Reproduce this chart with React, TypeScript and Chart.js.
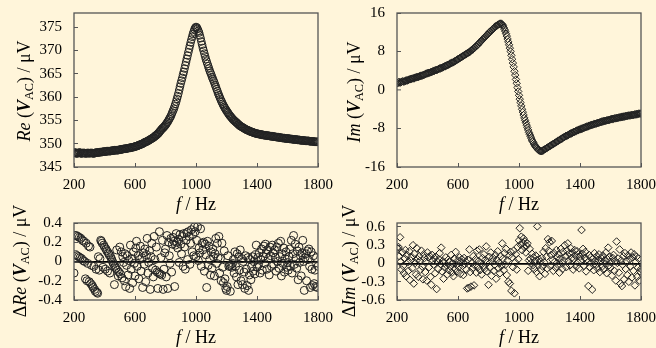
import React, { useEffect, useRef } from 'react';
import { Chart, registerables } from 'chart.js';

Chart.register(...registerables);

const W = 656;
const H = 348;
const BG = '#FFF5DA';
const INK = '#222222';
const FRAME = '#555555';
const FONT = '"Liberation Serif", "Times New Roman", serif';

// Frequencies (Hz), shared by all four panels
const FREQ = [
  200, 205, 210, 215, 220, 225, 230, 235, 240, 245,
  250, 255, 260, 265, 270, 275, 280, 285, 290, 295,
  300, 305, 310, 315, 320, 325, 330, 335, 340, 345,
  350, 355, 360, 365, 370, 375, 380, 385, 390, 395,
  400, 405, 410, 415, 420, 425, 430, 435, 440, 445,
  450, 455, 460, 465, 470, 475, 480, 485, 490, 495,
  500, 505, 510, 515, 520, 525, 530, 535, 540, 545,
  550, 555, 560, 565, 570, 575, 580, 585, 590, 595,
  600, 605, 610, 615, 620, 625, 630, 635, 640, 645,
  650, 655, 660, 665, 670, 675, 680, 685, 690, 695,
  700, 705, 710, 715, 720, 725, 730, 735, 740, 745,
  750, 755, 760, 765, 770, 775, 780, 785, 790, 795,
  800, 805, 810, 815, 820, 825, 830, 835, 840, 845,
  850, 855, 860, 865, 870, 875, 880, 885, 890, 895,
  900, 905, 910, 915, 920, 925, 930, 935, 940, 945,
  950, 955, 960, 965, 970, 975, 980, 985, 990, 995,
  1000, 1005, 1010, 1015, 1020, 1025, 1030, 1035, 1040, 1045,
  1050, 1055, 1060, 1065, 1070, 1075, 1080, 1085, 1090, 1095,
  1100, 1105, 1110, 1115, 1120, 1125, 1130, 1135, 1140, 1145,
  1150, 1155, 1160, 1165, 1170, 1175, 1180, 1185, 1190, 1195,
  1200, 1205, 1210, 1215, 1220, 1225, 1230, 1235, 1240, 1245,
  1250, 1255, 1260, 1265, 1270, 1275, 1280, 1285, 1290, 1295,
  1300, 1305, 1310, 1315, 1320, 1325, 1330, 1335, 1340, 1345,
  1350, 1355, 1360, 1365, 1370, 1375, 1380, 1385, 1390, 1395,
  1400, 1405, 1410, 1415, 1420, 1425, 1430, 1435, 1440, 1445,
  1450, 1455, 1460, 1465, 1470, 1475, 1480, 1485, 1490, 1495,
  1500, 1505, 1510, 1515, 1520, 1525, 1530, 1535, 1540, 1545,
  1550, 1555, 1560, 1565, 1570, 1575, 1580, 1585, 1590, 1595,
  1600, 1605, 1610, 1615, 1620, 1625, 1630, 1635, 1640, 1645,
  1650, 1655, 1660, 1665, 1670, 1675, 1680, 1685, 1690, 1695,
  1700, 1705, 1710, 1715, 1720, 1725, 1730, 1735, 1740, 1745,
  1750, 1755, 1760, 1765, 1770, 1775, 1780, 1785, 1790, 1795,
  1800,
];

// Re(V_AC) / µV
const RE_V = [
  348.0, 348.1, 348.1, 347.9, 347.9, 348.0, 348.0, 348.1, 348.1, 347.9,
  347.9, 348.0, 348.0, 348.0, 348.0, 347.9, 347.9, 348.0, 348.0, 348.0,
  347.9, 348.0, 348.0, 348.0, 348.0, 347.9, 347.9, 348.0, 348.0, 348.1,
  348.1, 348.1, 348.1, 348.1, 348.2, 348.2, 348.2, 348.2, 348.3, 348.3,
  348.3, 348.3, 348.3, 348.4, 348.4, 348.4, 348.4, 348.4, 348.4, 348.5,
  348.5, 348.5, 348.5, 348.6, 348.6, 348.6, 348.6, 348.6, 348.6, 348.7,
  348.7, 348.7, 348.8, 348.8, 348.8, 348.9, 348.9, 348.9, 348.9, 349.0,
  349.0, 349.0, 349.1, 349.1, 349.1, 349.2, 349.2, 349.2, 349.3, 349.3,
  349.4, 349.4, 349.5, 349.5, 349.6, 349.7, 349.7, 349.8, 349.9, 349.9,
  350.0, 350.1, 350.2, 350.3, 350.4, 350.4, 350.5, 350.6, 350.7, 350.8,
  350.9, 351.0, 351.1, 351.2, 351.3, 351.4, 351.6, 351.7, 351.8, 352.0,
  352.1, 352.3, 352.5, 352.7, 352.9, 353.1, 353.3, 353.4, 353.6, 353.8,
  354.0, 354.2, 354.5, 354.7, 355.0, 355.3, 355.6, 355.9, 356.3, 356.7,
  357.1, 357.5, 358.0, 358.5, 359.0, 359.6, 360.2, 360.8, 361.5, 362.2,
  362.9, 363.5, 364.1, 364.8, 365.4, 366.1, 366.8, 367.5, 368.2, 368.9,
  369.6, 370.3, 371.0, 371.7, 372.3, 372.9, 373.5, 374.0, 374.5, 374.8,
  375.0, 374.9, 374.6, 374.2, 373.8, 373.2, 372.6, 371.9, 371.2, 370.5,
  369.9, 369.3, 368.7, 368.1, 367.6, 367.1, 366.6, 366.1, 365.6, 365.2,
  364.8, 364.3, 363.9, 363.5, 363.1, 362.6, 362.2, 361.7, 361.3, 360.8,
  360.4, 360.0, 359.6, 359.2, 358.9, 358.5, 358.2, 357.9, 357.6, 357.3,
  357.1, 356.8, 356.6, 356.3, 356.1, 355.9, 355.7, 355.5, 355.3, 355.1,
  355.0, 354.8, 354.7, 354.5, 354.4, 354.2, 354.1, 353.9, 353.8, 353.7,
  353.6, 353.5, 353.4, 353.3, 353.2, 353.1, 353.0, 352.9, 352.9, 352.8,
  352.7, 352.6, 352.6, 352.5, 352.5, 352.4, 352.3, 352.3, 352.2, 352.2,
  352.1, 352.1, 352.1, 352.0, 352.0, 352.0, 351.9, 351.9, 351.9, 351.8,
  351.8, 351.8, 351.8, 351.7, 351.7, 351.7, 351.7, 351.6, 351.6, 351.6,
  351.6, 351.5, 351.5, 351.5, 351.5, 351.4, 351.4, 351.4, 351.4, 351.3,
  351.3, 351.3, 351.3, 351.2, 351.2, 351.2, 351.2, 351.1, 351.1, 351.1,
  351.1, 351.1, 351.1, 351.0, 351.0, 351.0, 351.0, 350.9, 350.9, 350.9,
  350.9, 350.9, 350.9, 350.8, 350.8, 350.8, 350.8, 350.7, 350.7, 350.7,
  350.7, 350.7, 350.7, 350.6, 350.6, 350.6, 350.6, 350.6, 350.6, 350.5,
  350.5, 350.5, 350.5, 350.5, 350.5, 350.4, 350.4, 350.4, 350.4, 350.4,
  350.4,
];

// Im(V_AC) / µV
const IM_V = [
  1.5, 1.4, 1.6, 1.7, 1.5, 1.6, 1.7, 1.8, 1.8, 1.7,
  1.8, 1.9, 2.0, 2.0, 2.0, 2.1, 2.2, 2.2, 2.3, 2.3,
  2.4, 2.4, 2.4, 2.5, 2.6, 2.6, 2.7, 2.7, 2.7, 2.8,
  2.9, 2.9, 3.0, 3.0, 3.1, 3.1, 3.2, 3.3, 3.4, 3.4,
  3.5, 3.5, 3.6, 3.6, 3.7, 3.7, 3.8, 3.9, 3.9, 4.0,
  4.1, 4.1, 4.2, 4.2, 4.3, 4.4, 4.5, 4.5, 4.6, 4.6,
  4.7, 4.8, 4.9, 4.9, 5.0, 5.1, 5.2, 5.2, 5.3, 5.4,
  5.5, 5.6, 5.7, 5.7, 5.8, 5.9, 6.0, 6.1, 6.2, 6.3,
  6.4, 6.5, 6.6, 6.7, 6.8, 6.9, 7.0, 7.1, 7.2, 7.3,
  7.4, 7.5, 7.6, 7.7, 7.8, 7.9, 8.0, 8.2, 8.3, 8.4,
  8.5, 8.7, 8.8, 9.0, 9.1, 9.3, 9.4, 9.6, 9.8, 9.9,
  10.1, 10.3, 10.5, 10.6, 10.8, 11.0, 11.1, 11.3, 11.5, 11.6,
  11.8, 12.0, 12.1, 12.3, 12.4, 12.6, 12.7, 12.9, 13.0, 13.2,
  13.3, 13.4, 13.5, 13.6, 13.7, 13.8, 13.8, 13.8, 13.6, 13.4,
  13.0, 12.6, 12.2, 11.7, 11.2, 10.6, 10.0, 9.4, 8.7, 8.0,
  7.2, 6.4, 5.6, 4.8, 3.9, 3.1, 2.2, 1.4, 0.5, -0.3,
  -1.1, -1.9, -2.6, -3.3, -4.0, -4.6, -5.2, -5.8, -6.3, -6.8,
  -7.3, -7.8, -8.3, -8.8, -9.2, -9.6, -10.0, -10.4, -10.7, -11.0,
  -11.3, -11.6, -11.8, -12.0, -12.2, -12.4, -12.5, -12.6, -12.7, -12.7,
  -12.7, -12.6, -12.5, -12.4, -12.3, -12.2, -12.1, -12.0, -11.9, -11.8,
  -11.7, -11.6, -11.5, -11.4, -11.3, -11.2, -11.1, -11.0, -10.9, -10.8,
  -10.7, -10.6, -10.5, -10.4, -10.3, -10.2, -10.1, -10.0, -9.9, -9.8,
  -9.7, -9.6, -9.5, -9.5, -9.4, -9.3, -9.2, -9.1, -9.0, -9.0,
  -8.9, -8.8, -8.7, -8.7, -8.6, -8.5, -8.4, -8.4, -8.3, -8.2,
  -8.2, -8.1, -8.1, -8.0, -7.9, -7.9, -7.8, -7.7, -7.7, -7.6,
  -7.6, -7.5, -7.4, -7.4, -7.3, -7.3, -7.2, -7.2, -7.1, -7.1,
  -7.0, -7.0, -6.9, -6.9, -6.8, -6.8, -6.7, -6.7, -6.6, -6.6,
  -6.5, -6.5, -6.4, -6.4, -6.4, -6.3, -6.3, -6.3, -6.2, -6.2,
  -6.1, -6.1, -6.0, -6.0, -6.0, -5.9, -5.9, -5.9, -5.8, -5.8,
  -5.8, -5.7, -5.7, -5.7, -5.6, -5.6, -5.6, -5.5, -5.5, -5.5,
  -5.4, -5.4, -5.4, -5.3, -5.3, -5.3, -5.3, -5.2, -5.2, -5.2,
  -5.2, -5.1, -5.1, -5.1, -5.0, -5.0, -5.0, -4.9, -4.9, -4.9,
  -4.9,
];

// ΔRe(V_AC) / µV
const D_RE = [
  -0.12, 0.27, 0.07, 0.27, 0.06, 0.26, 0.05, 0.25, 0.04, 0.24,
  0.03, 0.22, 0.01, 0.21, 0.00, -0.18, 0.19, -0.20, -0.02, 0.16,
  -0.21, 0.15, -0.23, -0.04, -0.25, -0.27, -0.05, -0.29, -0.31, -0.08,
  -0.32, -0.33, 0.05, -0.09, 0.03, 0.22, 0.21, 0.19, -0.06, 0.17,
  0.15, -0.08, 0.13, 0.11, -0.10, 0.09, 0.07, -0.12, 0.05, 0.03,
  0.01, -0.01, -0.03, -0.24, -0.05, -0.07, 0.12, -0.09, -0.15, -0.11,
  0.15, -0.13, 0.10, -0.17, 0.05, -0.01, -0.20, 0.08, -0.26, -0.04,
  0.06, -0.14, 0.01, -0.28, 0.17, -0.08, 0.03, -0.22, 0.10, -0.02,
  -0.15, 0.14, 0.21, -0.05, 0.06, -0.18, 0.02, 0.16, -0.10, 0.04,
  -0.27, 0.09, -0.03, 0.13, -0.21, 0.07, 0.24, -0.12, -0.01, 0.11,
  -0.29, 0.05, 0.19, -0.07, -0.16, 0.26, 0.02, -0.09, 0.15, -0.11,
  -0.28, -0.12, 0.31, -0.13, 0.04, -0.14, 0.22, -0.29, -0.08, 0.09,
  0.13, -0.16, 0.27, -0.28, 0.20, 0.06, -0.02, 0.24, -0.11, 0.18,
  0.25, 0.21, -0.26, 0.17, 0.29, 0.20, 0.14, 0.23, -0.01, 0.28,
  0.18, 0.08, 0.26, -0.05, 0.29, 0.15, -0.08, 0.22, 0.30, 0.02,
  0.31, 0.26, -0.03, 0.19, 0.33, 0.10, 0.28, 0.06, 0.36, 0.31,
  0.05, 0.22, 0.36, 0.01, 0.14, 0.09, 0.34, -0.05, 0.19, 0.12,
  0.20, -0.10, 0.18, 0.07, -0.27, 0.21, -0.04, 0.16, 0.02, -0.14,
  0.10, -0.07, 0.13, 0.05, -0.15, 0.08, 0.24, -0.02, 0.19, 0.04,
  0.26, -0.12, 0.03, -0.20, 0.19, -0.06, -0.22, 0.11, -0.18, -0.28,
  -0.30, -0.26, 0.06, -0.05, -0.04, -0.31, -0.03, -0.06, -0.02, 0.02,
  -0.12, 0.10, -0.05, -0.16, 0.08, -0.24, 0.05, -0.09, 0.12, -0.20,
  0.03, -0.24, 0.00, -0.11, -0.28, 0.06, -0.08, -0.25, 0.04, -0.30,
  -0.14, 0.02, -0.19, -0.05, 0.05, -0.10, 0.00, -0.13, 0.07, 0.17,
  -0.06, 0.04, -0.03, 0.09, -0.12, 0.02, 0.13, -0.09, 0.05, 0.16,
  -0.02, 0.18, 0.08, -0.08, 0.12, 0.03, -0.14, 0.15, 0.06, -0.05,
  0.17, 0.09, -0.03, 0.12, 0.04, -0.10, 0.15, 0.00, 0.19, -0.07,
  0.05, 0.21, -0.15, 0.08, -0.02, 0.14, -0.11, 0.03, 0.10, -0.06,
  -0.01, -0.09, 0.05, 0.13, -0.05, 0.22, -0.12, 0.08, 0.27, -0.03,
  0.18, 0.03, -0.07, 0.11, -0.19, 0.15, -0.01, 0.06, -0.15, 0.09,
  0.22, 0.00, -0.30, 0.04, 0.08, -0.20, 0.11, 0.02, 0.13, -0.05,
  -0.27, 0.10, -0.08, -0.25, 0.06, -0.23, -0.09, -0.26, 0.04, -0.27,
  -0.05,
];

// ΔIm(V_AC) / µV
const D_IM = [
  0.26, 0.24, 0.27, 0.12, 0.43, 0.03, -0.10, 0.18, -0.04, -0.16,
  0.08, 0.22, -0.21, 0.14, 0.02, -0.12, 0.20, -0.27, 0.05, 0.11,
  -0.08, 0.30, -0.33, 0.16, 0.01, -0.18, 0.25, 0.07, -0.22, 0.12,
  0.04, -0.10, 0.21, -0.05, -0.26, 0.15, 0.09, -0.14, 0.03, -0.28,
  0.18, 0.10, -0.06, 0.12, -0.22, -0.35, 0.14, 0.05, -0.02, 0.09,
  -0.16, 0.11, -0.42, 0.03, -0.09, 0.07, 0.17, -0.01, 0.26, -0.13,
  0.04, -0.25, 0.01, -0.07, 0.10, -0.03, -0.18, 0.06, -0.11, 0.02,
  -0.05, 0.14, -0.15, 0.00, -0.21, 0.08, -0.09, 0.19, -0.02, -0.13,
  0.05, -0.06, 0.10, -0.17, 0.02, 0.07, -0.04, -0.19, 0.09, -0.01,
  0.03, -0.10, -0.41, 0.06, -0.40, 0.23, -0.14, -0.38, 0.01, -0.08,
  0.12, -0.36, -0.03, 0.07, -0.15, 0.21, -0.06, 0.04, 0.23, -0.11,
  0.00, -0.18, 0.09, -0.04, 0.15, -0.09, 0.06, 0.28, -0.13, 0.02,
  -0.35, 0.11, -0.07, 0.18, -0.20, 0.03, 0.09, -0.12, -0.02, 0.14,
  -0.25, 0.06, 0.20, -0.08, 0.01, -0.16, 0.12, -0.04, 0.33, 0.08,
  -0.11, 0.17, -0.02, 0.24, -0.19, 0.05, -0.30, 0.13, -0.33, 0.19,
  -0.45, 0.10, -0.06, 0.21, -0.49, 0.02, 0.15, -0.10, 0.27, 0.07,
  0.38, 0.58, 0.31, 0.44, 0.22, 0.34, 0.41, 0.27, 0.36, 0.18,
  0.29, 0.33, -0.12, 0.05, 0.24, 0.08, 0.01, 0.16, -0.03, 0.10,
  -0.09, 0.04, 0.13, -0.14, 0.61, -0.02, 0.07, -0.21, 0.03, -0.11,
  0.09, -0.05, 0.19, 0.02, -0.17, 0.25, 0.11, -0.08, 0.40, 0.21,
  0.35, -0.04, 0.14, 0.37, 0.06, -0.12, 0.17, 0.03, -0.07, 0.22,
  0.10, -0.02, 0.15, -0.15, 0.08, 0.24, 0.01, -0.09, 0.19, 0.05,
  0.30, 0.12, -0.06, 0.21, 0.33, 0.04, 0.16, -0.03, 0.25, 0.09,
  0.18, -0.10, 0.07, 0.22, 0.13, -0.05, 0.20, 0.02, 0.15, -0.08,
  0.11, 0.05, 0.55, 0.16, 0.24, -0.04, 0.09, 0.19, -0.13, 0.07,
  0.02, -0.37, 0.14, -0.06, 0.10, 0.01, -0.43, 0.08, -0.11, 0.17,
  0.04, -0.02, 0.12, -0.08, 0.06, 0.15, -0.14, 0.03, 0.09, -0.05,
  0.13, -0.10, 0.05, 0.00, 0.18, -0.16, 0.07, 0.26, -0.03, 0.11,
  -0.07, 0.02, -0.20, 0.09, 0.14, -0.12, 0.04, -0.28, 0.36, 0.01,
  0.08, -0.15, 0.23, -0.33, 0.05, -0.37, -0.02, 0.12, -0.26, 0.17,
  -0.09, 0.04, -0.19, 0.13, -0.30, 0.07, -0.05, 0.18, -0.23, 0.10,
  -0.12, 0.15, -0.36, 0.03, 0.11, -0.22, -0.07, 0.08, -0.28, -0.13,
  -0.09,
];

const F_TICKS = [200, 600, 1000, 1400, 1800];
const RE_TICKS = [345, 350, 355, 360, 365, 370, 375];
const IM_TICKS = [-16, -8, 0, 8, 16];
const DRE_TICKS = [-0.4, -0.2, 0, 0.2, 0.4];
const DIM_TICKS = [-0.6, -0.3, 0, 0.3, 0.6];

type Part = { t: string; style?: string; sub?: boolean };

const X_TITLE: Part[] = [{ t: 'f', style: 'italic' }, { t: ' / Hz' }];
const RE_TITLE: Part[] = [
  { t: 'Re', style: 'italic' }, { t: ' (' }, { t: 'V', style: 'italic bold' },
  { t: 'AC', sub: true }, { t: ') / μV' },
];
const IM_TITLE: Part[] = [
  { t: 'Im', style: 'italic' }, { t: ' (' }, { t: 'V', style: 'italic bold' },
  { t: 'AC', sub: true }, { t: ') / μV' },
];
const DRE_TITLE: Part[] = [{ t: 'Δ' }, ...RE_TITLE];
const DIM_TITLE: Part[] = [{ t: 'Δ' }, ...IM_TITLE];

const PANELS = [
  {
    fx: FREQ, vals: RE_V, ticks: RE_TICKS, min: 345, max: 378, zero: false,
    marker: 'circle', radius: 3.8,
    area: { l: 74, r: 318, t: 13, b: 167 },
    yTitle: RE_TITLE, yPos: [25, 91], xPos: [196, 205],
  },
  {
    fx: FREQ, vals: IM_V, ticks: IM_TICKS, min: -16, max: 16, zero: false,
    marker: 'rectRot', radius: 3.7,
    area: { l: 397, r: 641, t: 13, b: 167 },
    yTitle: IM_TITLE, yPos: [355, 92], xPos: [519, 205],
  },
  {
    fx: FREQ, vals: D_RE, ticks: DRE_TICKS, min: -0.4, max: 0.4, zero: true,
    marker: 'circle', radius: 4,
    area: { l: 74, r: 318, t: 223, b: 300 },
    yTitle: DRE_TITLE, yPos: [21, 261], xPos: [196, 338],
  },
  {
    fx: FREQ, vals: D_IM, ticks: DIM_TICKS, min: -0.6, max: 0.665, zero: true,
    marker: 'rectRot', radius: 3.8,
    area: { l: 397, r: 641, t: 223, b: 300 },
    yTitle: DIM_TITLE, yPos: [350, 261], xPos: [519, 338],
  },
];

const TITLE_SIZE = 18;
const TICK_SIZE = 15;
const YW = 50;
const XH = 30;

function drawRich(ctx: CanvasRenderingContext2D, parts: Part[], cx: number, cy: number, rotate: boolean) {
  ctx.save();
  ctx.translate(cx, cy);
  if (rotate) ctx.rotate(-Math.PI / 2);
  ctx.textBaseline = 'middle';
  ctx.textAlign = 'left';
  ctx.fillStyle = '#000';
  const fonts = parts.map((p) => `${p.style || 'normal'} ${p.sub ? TITLE_SIZE * 0.68 : TITLE_SIZE}px ${FONT}`);
  const widths = parts.map((p, i) => {
    ctx.font = fonts[i];
    return ctx.measureText(p.t).width;
  });
  const total = widths.reduce((a, b) => a + b, 0);
  let x = -total / 2;
  parts.forEach((p, i) => {
    ctx.font = fonts[i];
    ctx.fillText(p.t, x, p.sub ? TITLE_SIZE * 0.24 : 0);
    x += widths[i];
  });
  ctx.restore();
}

function makeConfig(p: any): any {
  const tickFont = { family: FONT, size: TICK_SIZE };
  return {
    type: 'scatter',
    data: {
      datasets: [
        {
          data: p.fx.map((f: number, i: number) => ({ x: f, y: p.vals[i] })),
          pointStyle: p.marker,
          pointRadius: p.radius,
          pointBorderColor: INK,
          pointBackgroundColor: 'rgba(0,0,0,0)',
          pointBorderWidth: 1,
          borderColor: INK,
          showLine: false,
        },
      ],
    },
    options: {
      responsive: false,
      animation: false,
      events: [],
      layout: {
        padding: {
          left: p.area.l - YW,
          right: W - p.area.r,
          top: p.area.t,
          bottom: H - p.area.b - XH,
        },
      },
      plugins: { legend: { display: false }, tooltip: { enabled: false } },
      scales: {
        x: {
          type: 'linear',
          position: 'bottom',
          min: 200,
          max: 1800,
          afterBuildTicks: (s: any) => {
            s.ticks = F_TICKS.map((v) => ({ value: v }));
          },
          afterFit: (s: any) => {
            s.height = XH;
            s.paddingLeft = 0;
            s.paddingRight = 0;
          },
          border: { display: false },
          grid: {
            drawOnChartArea: false,
            drawTicks: true,
            tickLength: -4,
            color: FRAME,
            lineWidth: 1,
          },
          ticks: {
            padding: 13,
            color: '#000',
            font: tickFont,
            maxRotation: 0,
            autoSkip: false,
            callback: (v: any) => String(v),
          },
        },
        y: {
          type: 'linear',
          position: 'left',
          min: p.min,
          max: p.max,
          afterBuildTicks: (s: any) => {
            s.ticks = p.ticks.map((v: number) => ({ value: v }));
          },
          afterFit: (s: any) => {
            s.width = YW;
            s.paddingTop = 0;
            s.paddingBottom = 0;
          },
          border: { display: false },
          grid: {
            drawOnChartArea: p.zero,
            drawTicks: true,
            tickLength: -4,
            color: (c: any) => (p.zero && c.tick && c.tick.value === 0 ? '#000' : 'rgba(0,0,0,0)'),
            lineWidth: (c: any) => (c.tick && c.tick.value === 0 ? 1.8 : 1),
            tickColor: FRAME,
            tickWidth: 1,
          },
          ticks: {
            padding: 16,
            color: '#000',
            font: tickFont,
            autoSkip: false,
            callback: (v: any) => String(v),
          },
        },
      },
    },
    plugins: [
      {
        id: 'frameAndTitles',
        afterDatasetsDraw(chart: any) {
          const { ctx, chartArea: a } = chart;
          ctx.save();
          ctx.strokeStyle = FRAME;
          ctx.lineWidth = 1.3;
          ctx.strokeRect(a.left, a.top, a.right - a.left, a.bottom - a.top);
          ctx.restore();
        },
        afterDraw(chart: any) {
          const ctx = chart.ctx;
          drawRich(ctx, p.yTitle, p.yPos[0], p.yPos[1], true);
          drawRich(ctx, X_TITLE, p.xPos[0], p.xPos[1], false);
        },
      },
    ],
  };
}

function Panel({ spec }: { spec: any }) {
  const ref = useRef<HTMLCanvasElement | null>(null);
  useEffect(() => {
    if (!ref.current) return;
    const chart = new Chart(ref.current, makeConfig(spec));
    return () => chart.destroy();
  }, [spec]);
  return (
    <canvas
      ref={ref}
      width={W}
      height={H}
      style={{ position: 'absolute', left: 0, top: 0, width: W, height: H }}
    />
  );
}

export default function App() {
  return (
    <div
      style={{
        position: 'fixed',
        left: 0,
        top: 0,
        width: W,
        height: H,
        background: BG,
        overflow: 'hidden',
      }}
    >
      {PANELS.map((p, i) => (
        <Panel key={i} spec={p} />
      ))}
    </div>
  );
}
